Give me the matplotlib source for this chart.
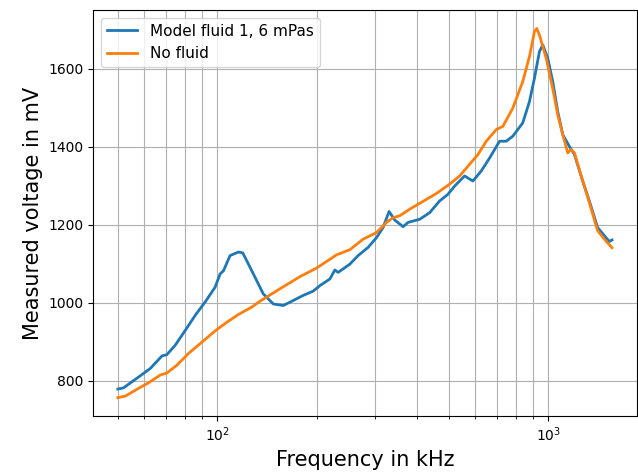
import numpy as np
import matplotlib

matplotlib.use('Agg')
import matplotlib.pyplot as plt

# Model fluid 1, 6 mPas (frequency in kHz, voltage in mV)
freq_model = [50, 52, 57.8, 62.7, 68, 70.3, 74.5, 79.9, 85.7, 91.8, 98.4, 101.9,
              104.3, 109.2, 115.7, 119.3, 125.5, 130, 137.6, 147.6, 158.2, 169.6,
              181.8, 194.9, 204.1, 218.8, 226.5, 231.8, 251.4, 266.4, 285.5, 302.7,
              316.9, 330.4, 343.8, 364.2, 377.1, 409, 438.3, 469.8, 497.7, 521.4,
              558.9, 592.2, 627.9, 665.2, 712.9, 746.8, 782, 838, 878.2, 909.3,
              941.3, 963.2, 997, 1032.5, 1069, 1107, 1159, 1201, 1272, 1332, 1411,
              1479, 1531, 1560]
volt_model = [779, 782, 810, 832, 864, 867, 891, 929, 968, 1002, 1040, 1074,
              1082, 1121, 1130, 1128, 1091, 1065, 1023, 997, 993, 1006,
              1019, 1030, 1044, 1061, 1084, 1078, 1099, 1121, 1142, 1167,
              1193, 1234, 1212, 1195, 1206, 1214, 1231, 1261, 1278, 1299,
              1325, 1312, 1338, 1371, 1414, 1414, 1427, 1461, 1516, 1576,
              1644, 1661, 1627, 1567, 1490, 1431, 1401, 1380, 1312, 1261, 1193,
              1172, 1157, 1161]

# No fluid
freq_none = [50, 52.7, 57.8, 61.9, 67.2, 70.3, 75.4, 81.7, 89.7, 98.4, 106.7,
             115.7, 127, 134.5, 154.6, 177.6, 199.5, 229.3, 251.4, 275.8, 302.7,
             324.5, 339.8, 355.9, 381.6, 428.5, 459.2, 503.7, 540, 578.9, 613.4,
             650, 697, 729.5, 782, 838, 878, 909, 923.8, 941, 986, 1032, 1069,
             1107, 1146, 1173, 1201, 1272, 1332, 1411, 1479, 1560]
volt_none = [757, 761, 781, 795, 815, 820, 840, 870, 899, 928, 950,
             970, 989, 1004, 1036, 1067, 1089, 1123, 1136, 1163, 1180,
             1206, 1218, 1223, 1240, 1265, 1280, 1304, 1325, 1355, 1380,
             1414, 1444, 1452, 1499, 1567, 1631, 1695, 1703, 1686, 1627, 1550, 1482,
             1431, 1384, 1393, 1384, 1312, 1257, 1185, 1163, 1141]

fig, ax = plt.subplots(figsize=(6.38, 4.75), dpi=100)
fig.subplots_adjust(left=0.146, right=0.998, top=0.979, bottom=0.124)

ax.plot(freq_model, volt_model, lw=2, label='Model fluid 1, 6 mPas')
ax.plot(freq_none, volt_none, lw=2, label='No fluid')
ax.set_xscale('log')

ax.grid(True, which='both', axis='x')
ax.grid(True, which='major', axis='y')

ax.set_xlabel('Frequency in kHz', fontsize=15)
ax.set_ylabel('Measured voltage in mV', fontsize=15)
ax.legend(loc='upper left', fontsize=11)

fig.savefig('out.png', dpi=100)
